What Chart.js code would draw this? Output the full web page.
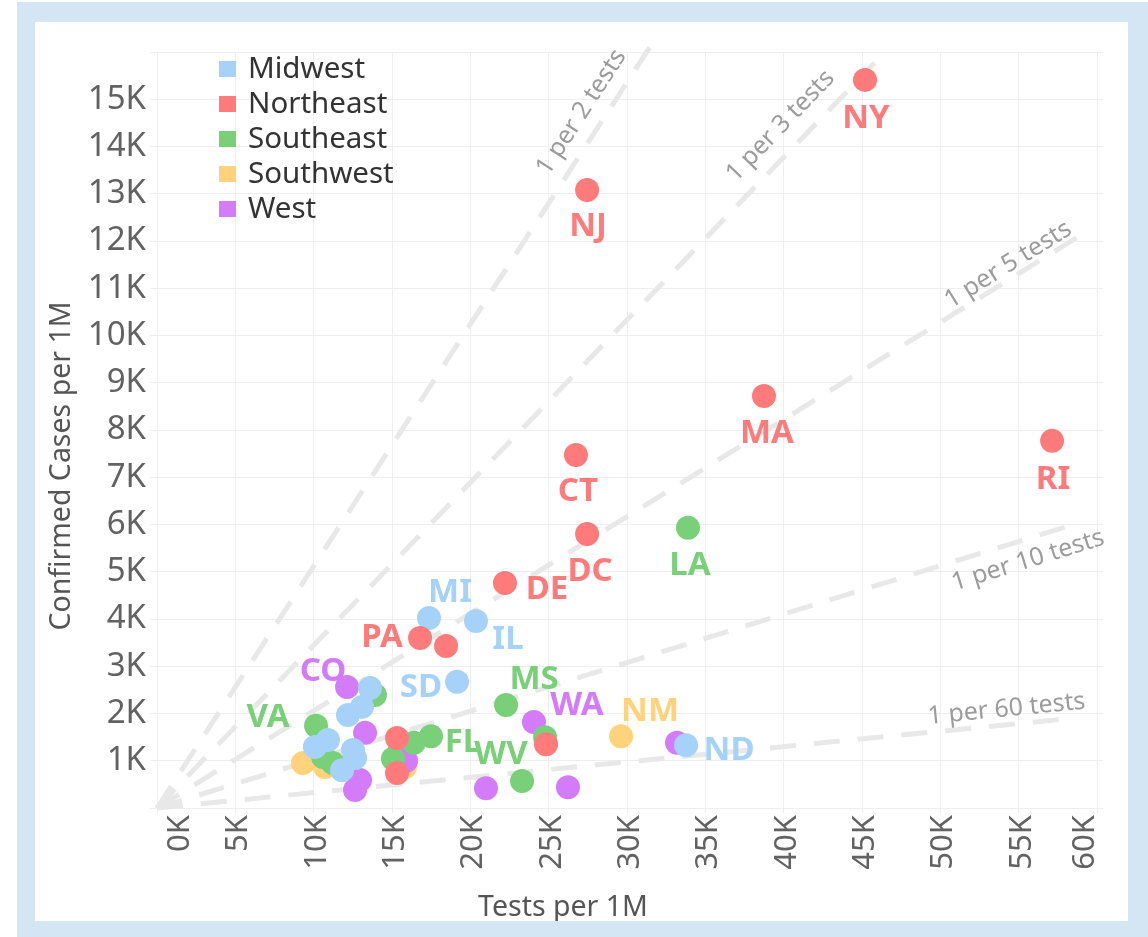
<!DOCTYPE html>
<html><head><meta charset="utf-8">
<script src="https://cdn.jsdelivr.net/npm/chart.js@4/dist/chart.umd.min.js"></script>
<style>
html,body{margin:0;padding:0;background:#fff;width:1148px;height:937px;overflow:hidden;}
#frame{position:absolute;left:17px;top:2px;width:1131px;height:935px;background:#d4e5f4;}
#inner{position:absolute;left:35px;top:22px;width:1093px;height:899px;background:#fff;}
canvas{position:absolute;left:0;top:0;}
</style></head><body>
<div id="frame"></div>
<div id="inner"><canvas id="c" width="1093" height="899"></canvas></div>
<script>
// ---------- data ----------
const regions = ['Midwest', 'Northeast', 'Southeast', 'Southwest', 'West'];

const midwestStates = ['MI', 'IL', 'SD', 'ND', '', '', '', '', '', '', '', ''];
const midwestTests  = [17360, 20360, 19150, 33770, 13600, 13080, 12190, 10910, 10080, 12510, 12640, 11810];
const midwestCases  = [4020, 3960, 2670, 1330, 2540, 2140, 1970, 1440, 1290, 1230, 1060, 800];

const northeastStates = ['NY', 'NJ', 'MA', 'RI', 'CT', 'DC', 'DE', 'PA', '', '', '', ''];
const northeastTests  = [45190, 27450, 38740, 57130, 26740, 27450, 22210, 16790, 18450, 24830, 15320, 15320];
const northeastCases  = [15410, 13080, 8720, 7770, 7470, 5800, 4760, 3600, 3430, 1350, 1480, 740];

const southeastStates = ['LA', 'MS', 'WV', 'VA', 'FL', '', '', '', '', '', ''];
const southeastTests  = [33890, 22280, 23300, 10150, 17490, 24770, 13910, 16400, 15060, 10600, 11230];
const southeastCases  = [5930, 2180, 570, 1740, 1520, 1500, 2390, 1380, 1040, 1080, 950];

const southwestStates = ['NM', '', '', ''];
const southwestTests  = [29620, 9320, 10720, 15830];
const southwestCases  = [1520, 950, 870, 870];

const westStates = ['CO', 'WA', '', '', '', '', '', '', '', ''];
const westTests  = [12130, 24060, 33190, 13280, 12960, 12640, 15500, 15900, 21000, 26230];
const westCases  = [2560, 1820, 1380, 1590, 590, 380, 1230, 1000, 420, 440];

const refLabels    = ['1 per 2 tests', '1 per 3 tests', '1 per 5 tests', '1 per 10 tests', '1 per 60 tests'];
const refEndTests  = [31800, 45800, 58700, 58600, 57850];
const refEndCases  = [16280, 15770, 12070, 6010, 1880];

const xTickValues = [0, 5000, 10000, 15000, 20000, 25000, 30000, 35000, 40000, 45000, 50000, 55000, 60000];
const xTickLabels = ['0K', '5K', '10K', '15K', '20K', '25K', '30K', '35K', '40K', '45K', '50K', '55K', '60K'];
const yTickValues = [0, 1000, 2000, 3000, 4000, 5000, 6000, 7000, 8000, 9000, 10000, 11000, 12000, 13000, 14000, 15000, 16000];
const yTickLabels = ['', '1K', '2K', '3K', '4K', '5K', '6K', '7K', '8K', '9K', '10K', '11K', '12K', '13K', '14K', '15K', ''];

// ---------- styles ----------
const regionColors = ['#a6d2fa', '#ff7b7b', '#79d079', '#ffd27b', '#d47bfa'];
const regionOrder  = [2, 1, 3, 5, 4];
// label placement (pixel offsets of label centre from point centre)
const labelOffsets = {
  NY: [1, 36], NJ: [1, 34], MA: [3, 35], RI: [1, 36], CT: [2, 34], DC: [3, 35], LA: [2, 35],
  DE: [42, 4], MI: [21, -28], IL: [32, 16], PA: [-38, -3], SD: [-36, 3], CO: [-24, -18],
  MS: [28, -28], WA: [43, -19], FL: [32, 4], WV: [-21, -29], VA: [-48, -11], NM: [29, -27], ND: [43, 3]
};
// reference label placement: fraction along line, perpendicular offset (px, +up)
const refLabelPlace = [[0.889, 22], [0.893, 24], [0.933, 13], [0.942, -21], [0.939, 15.5]];

const FONT = '"Noto Sans", "Open Sans", sans-serif';

function mk(xs, ys, names) { return xs.map((x, i) => ({ x: x, y: ys[i], s: names[i] })); }
const series = [
  mk(midwestTests, midwestCases, midwestStates),
  mk(northeastTests, northeastCases, northeastStates),
  mk(southeastTests, southeastCases, southeastStates),
  mk(southwestTests, southwestCases, southwestStates),
  mk(westTests, westCases, westStates)
];

const datasets = regions.map((r, i) => ({
  type: 'scatter', label: r, data: series[i], order: regionOrder[i],
  backgroundColor: regionColors[i], borderWidth: 0,
  pointRadius: 12, pointHoverRadius: 12, clip: false
}));
refLabels.forEach((lab, i) => {
  datasets.push({
    type: 'line', label: lab, isRef: true,
    data: [{ x: 0, y: 0 }, { x: refEndTests[i], y: refEndCases[i] }],
    borderColor: '#e8e8e8', borderWidth: 5, borderDash: [26, 18], borderCapStyle: 'butt',
    pointRadius: 0, fill: false, order: 10, clip: false, tension: 0
  });
});

const overlay = {
  id: 'overlay',
  afterDraw(chart) {
    const ctx = chart.ctx, xs = chart.scales.x, ys = chart.scales.y, area = chart.chartArea;
    ctx.save();
    // reference line labels
    ctx.font = '25px ' + FONT; ctx.fillStyle = '#9c9c9c';
    ctx.textAlign = 'center'; ctx.textBaseline = 'middle';
    refLabels.forEach((lab, i) => {
      const x0 = xs.getPixelForValue(0), y0 = ys.getPixelForValue(0);
      const x1 = xs.getPixelForValue(refEndTests[i]), y1 = ys.getPixelForValue(refEndCases[i]);
      const dx = x1 - x0, dy = y1 - y0, len = Math.hypot(dx, dy);
      const ux = dx / len, uy = dy / len;
      const [t, d] = refLabelPlace[i];
      const nx = uy, ny = -ux;
      const px = x0 + dx * t + nx * d, py = y0 + dy * t + ny * d;
      ctx.save(); ctx.translate(px, py); ctx.rotate(Math.atan2(dy, dx));
      ctx.fillText(lab, 0, 0); ctx.restore();
    });
    // state labels
    ctx.font = 'bold 33px ' + FONT; ctx.textAlign = 'center'; ctx.textBaseline = 'alphabetic';
    series.forEach((pts, i) => {
      ctx.fillStyle = regionColors[i];
      pts.forEach(p => {
        if (!p.s) return;
        const off = labelOffsets[p.s] || [0, 34];
        const px = xs.getPixelForValue(p.x) + off[0];
        const py = ys.getPixelForValue(p.y) + off[1];
        ctx.fillText(p.s, px, py + 12);
      });
    });
    // x tick labels (rotated, first/last flushed)
    ctx.font = '31px ' + FONT; ctx.fillStyle = '#626262';
    ctx.textAlign = 'right'; ctx.textBaseline = 'middle';
    xTickValues.forEach((v, i) => {
      let px = xs.getPixelForValue(v) + 3;
      if (i === 0) px += 20;
      if (i === xTickValues.length - 1) px -= 15;
      ctx.save(); ctx.translate(px, area.bottom + 7); ctx.rotate(-Math.PI / 2);
      ctx.fillText(xTickLabels[i], 0, 0); ctx.restore();
    });
    // axis titles
    ctx.font = '28.5px ' + FONT; ctx.fillStyle = '#555555';
    ctx.textAlign = 'center'; ctx.textBaseline = 'middle';
    ctx.fillText('Tests per 1M', 528, 886);
    ctx.save(); ctx.translate(27, 444); ctx.rotate(-Math.PI / 2);
    ctx.fillText('Confirmed Cases per 1M', 0, 0); ctx.restore();
    // legend
    ctx.font = '29.5px ' + FONT; ctx.textAlign = 'left'; ctx.textBaseline = 'middle';
    regions.forEach((r, i) => {
      const cy = 47 + i * 35;
      ctx.fillStyle = regionColors[i];
      ctx.fillRect(184, cy - 8, 17, 16);
      ctx.fillStyle = '#333333';
      ctx.fillText(r, 213, cy + 1);
    });
    ctx.restore();
  }
};

new Chart(document.getElementById('c').getContext('2d'), {
  type: 'scatter',
  data: { datasets: datasets },
  options: {
    responsive: false, animation: false, devicePixelRatio: 1,
    layout: { padding: { top: 30, right: 25, left: 0, bottom: 0 } },
    plugins: { legend: { display: false }, tooltip: { enabled: false } },
    events: [],
    scales: {
      x: {
        type: 'linear', min: 0, max: 60380,
        afterBuildTicks: s => { s.ticks = xTickValues.map(v => ({ value: v })); },
        ticks: { display: false },
        grid: { color: '#eeeeee', lineWidth: 1, drawTicks: true, tickLength: 5 },
        border: { display: false },
        afterFit: s => { s.height = 113; }
      },
      y: {
        type: 'linear', min: 0, max: 16000,
        afterBuildTicks: s => { s.ticks = yTickValues.map(v => ({ value: v })); },
        ticks: {
          callback: (v, i) => yTickLabels[i],
          font: { family: FONT, size: 33 }, color: '#626262', padding: 4
        },
        grid: { color: '#eeeeee', lineWidth: 1, drawTicks: true, tickLength: 7 },
        border: { display: false },
        afterFit: s => { s.width = 122; }
      }
    }
  },
  plugins: [overlay]
});
</script>
</body></html>
